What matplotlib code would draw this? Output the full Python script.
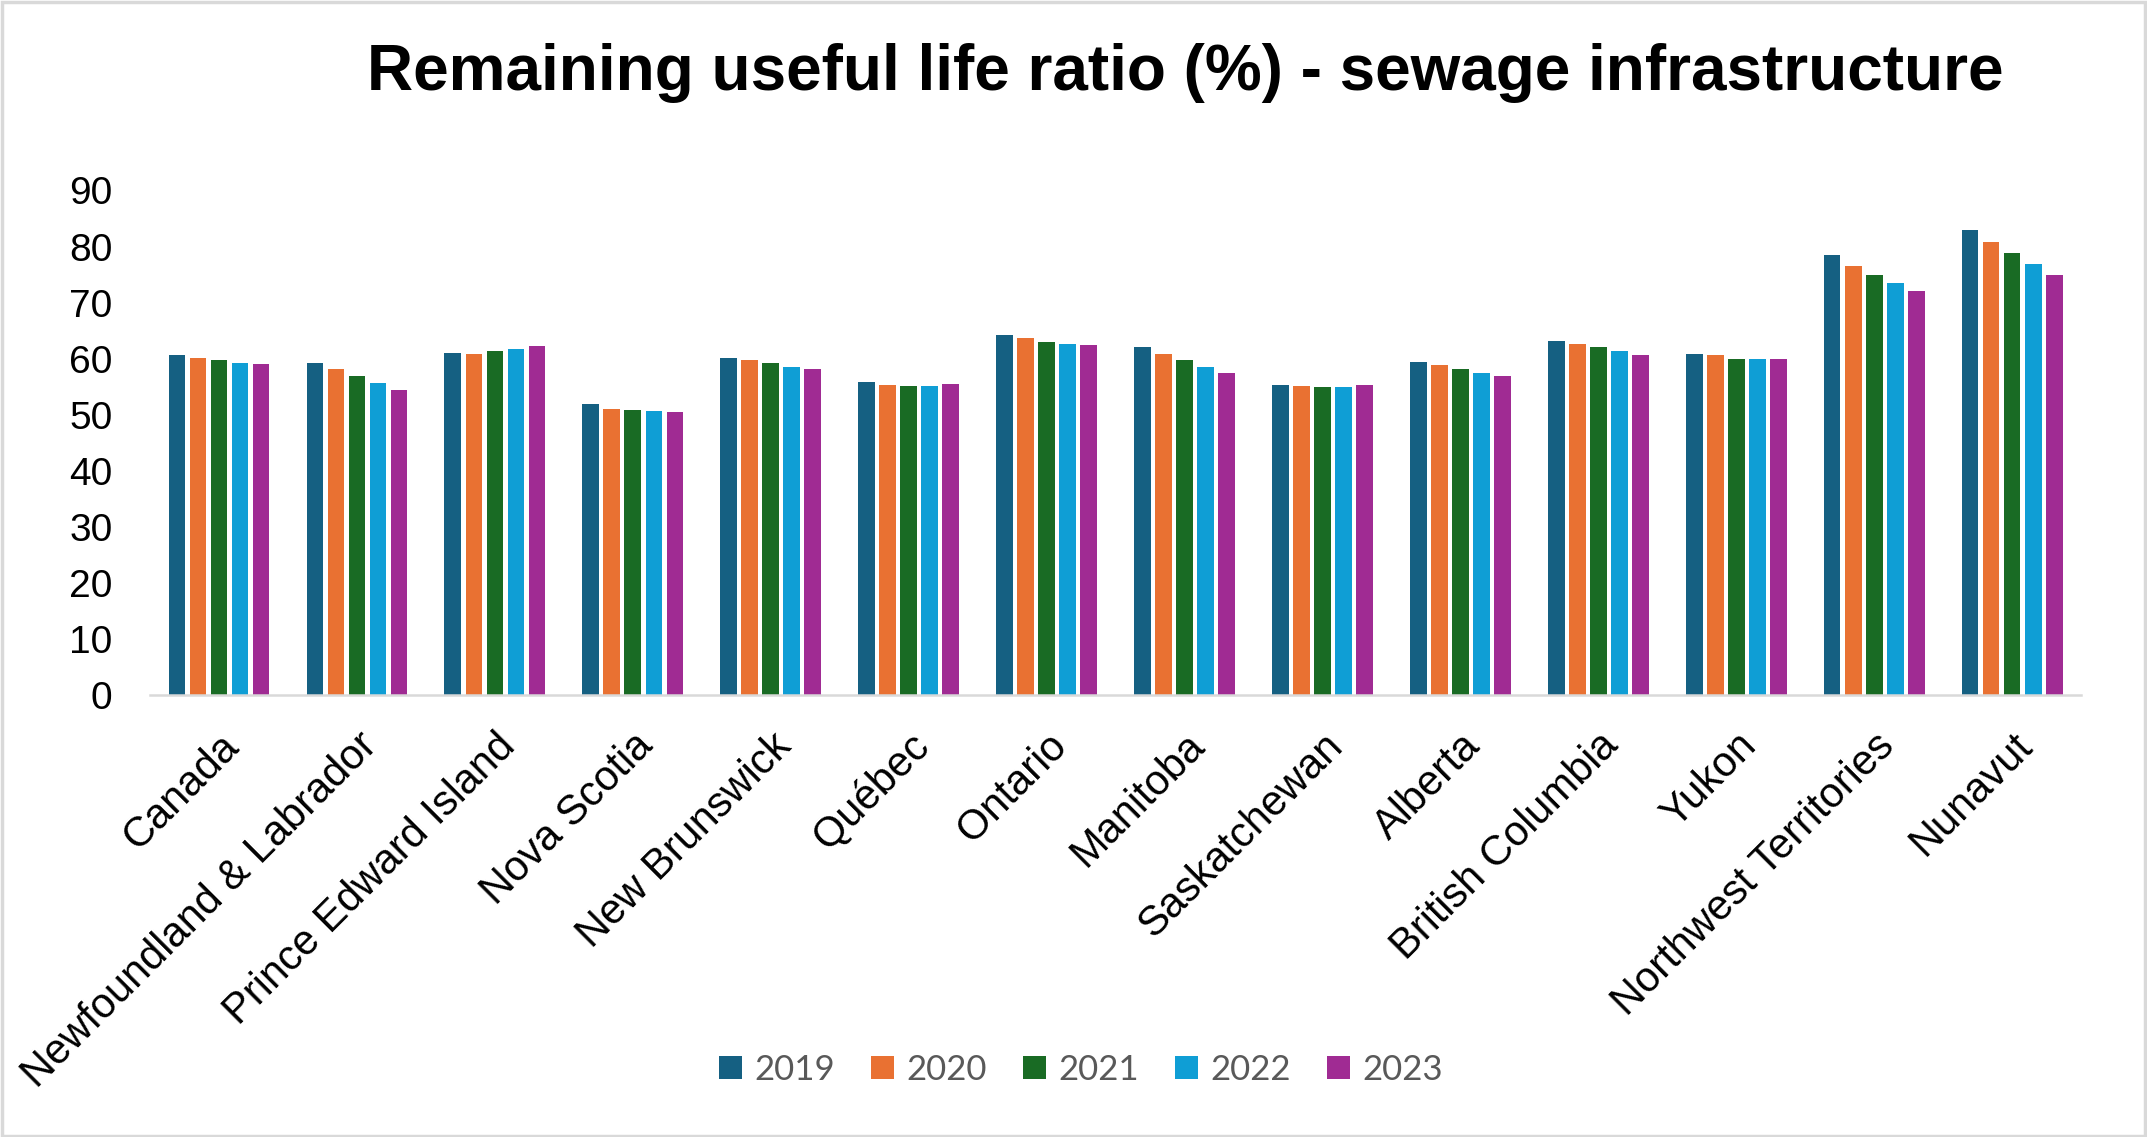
import matplotlib.pyplot as plt
import matplotlib.transforms as mtransforms
import numpy as np

regions = ['Canada', 'Newfoundland & Labrador', 'Prince Edward Island',
           'Nova Scotia', 'New Brunswick', 'Québec', 'Ontario', 'Manitoba',
           'Saskatchewan', 'Alberta', 'British Columbia', 'Yukon',
           'Northwest Territories', 'Nunavut']
years = ['2019', '2020', '2021', '2022', '2023']

v2019 = [60.6, 59.2, 61.0, 51.9, 60.1, 55.8, 64.2, 62.1, 55.3, 59.4, 63.2, 60.8, 78.5, 82.9]
v2020 = [60.1, 58.2, 60.8, 51.0, 59.8, 55.3, 63.7, 60.8, 55.1, 58.9, 62.6, 60.6, 76.5, 80.8]
v2021 = [59.7, 56.9, 61.4, 50.8, 59.2, 55.1, 63.0, 59.7, 54.9, 58.2, 62.1, 59.9, 74.9, 78.9]
v2022 = [59.2, 55.7, 61.7, 50.7, 58.5, 55.1, 62.6, 58.5, 54.9, 57.5, 61.3, 59.9, 73.5, 76.8]
v2023 = [59.0, 54.4, 62.3, 50.5, 58.2, 55.4, 62.5, 57.5, 55.3, 56.9, 60.6, 59.9, 72.0, 74.9]
series = [v2019, v2020, v2021, v2022, v2023]

colors = ['#156082', '#E97132', '#196B24', '#0F9ED5', '#A02B93']

fig = plt.figure(figsize=(21.47, 11.37), dpi=100)
ax = fig.add_axes([0.0699, 0.3887, 0.8994, 0.4438])

x = np.arange(len(regions))
pitch = 0.1525
width = 0.121
for i in range(len(series)):
    offs = (i - 2) * pitch
    ax.bar(x + offs, series[i], width=width, color=colors[i], label=years[i])

ax.set_xlim(-0.5, len(regions) - 0.5)
ax.set_ylim(0, 90)
ax.set_yticks(range(0, 91, 10))
ax.set_xticks(x)
ax.set_xticklabels(regions, rotation=45, ha='right', rotation_mode='anchor',
                   fontsize=30, family='Liberation Sans')
shift = mtransforms.ScaledTranslation(-0.18, 0, fig.dpi_scale_trans)
for lbl in ax.get_xticklabels():
    lbl.set_transform(lbl.get_transform() + shift)
for lbl in ax.get_yticklabels():
    lbl.set_fontsize(28)
    lbl.set_family('Liberation Sans')
ax.tick_params(axis='y', length=0, pad=27)
ax.tick_params(axis='x', length=0, pad=22)

for s in ['top', 'right', 'left']:
    ax.spines[s].set_visible(False)
ax.spines['bottom'].set_color('#D9D9D9')
ax.spines['bottom'].set_linewidth(1.8)

fig.text(0.552, 0.9355, 'Remaining useful life ratio (%) - sewage infrastructure',
         ha='center', va='center', fontsize=46, fontweight='bold',
         family='Liberation Sans')

leg = fig.legend(loc='center', bbox_to_anchor=(0.5035, 0.059), ncol=5,
                 frameon=False, prop={'family': 'Lato', 'size': 25},
                 handlelength=0.66, handleheight=0.66, handletextpad=0.35,
                 columnspacing=1.05)
for t in leg.get_texts():
    t.set_color('#595959')

# light grey frame round the whole picture
fig.patches.append(plt.Rectangle((0.001, 0.001), 0.998, 0.997, transform=fig.transFigure,
                                 fill=False, edgecolor='#D9D9D9', linewidth=2.5))

fig.savefig('out.png', dpi=100)
